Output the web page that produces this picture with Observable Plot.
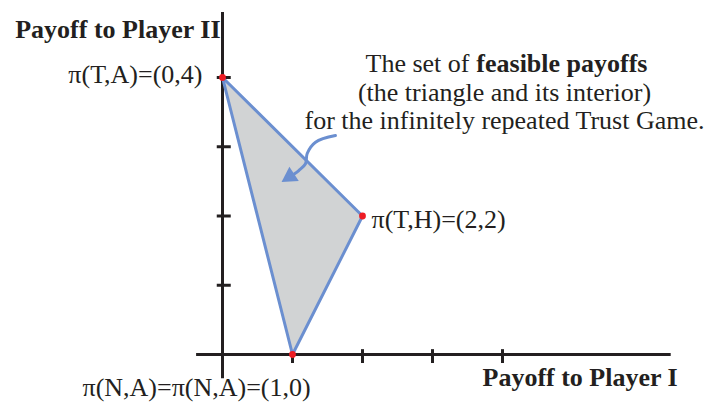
<!DOCTYPE html>
<html><head><meta charset="utf-8">
<script src="https://cdn.jsdelivr.net/npm/d3@7"></script>
<script src="https://cdn.jsdelivr.net/npm/@observablehq/plot@0.6"></script>
<style>body{margin:0;background:#fff}</style>
</head><body><div id="chart"></div>
<script>
// ---- data ----
const vertexX = [0, 2, 1];
const vertexY = [4, 2, 0];
const vertexLabels = ["π(T,A)=(0,4)", "π(T,H)=(2,2)", "π(N,A)=π(N,A)=(1,0)"];
const xTicks = [1, 2, 3, 4];
const yTicks = [1, 2, 3, 4];
const arrowX = [1.614, 1.329, 1.21, 1.186, 1.09, 1.029];
const arrowY = [3.162, 3.066, 2.903, 2.754, 2.657, 2.609];
const arrowHeadX = [0.963];
const arrowHeadY = [2.569];
const xAxisLabel = "Payoff to Player I";
const yAxisLabel = "Payoff to Player II";
const noteLine1a = "The set of";
const noteLine1b = "feasible payoffs";
const noteLine2 = "(the triangle and its interior)";
const noteLine3 = "for the infinitely repeated Trust Game.";

const vertices = vertexX.map((x, i) => ({x, y: vertexY[i], label: vertexLabels[i]}));
const polygon = [0, 1, 2, 0].map(i => vertices[i]);
const arrow = arrowX.map((x, i) => ({x, y: arrowY[i]}));
const head = arrowHeadX.map((x, i) => ({x, y: arrowHeadY[i]}));

const ink = "#231f20";
const blue = "#6b8fd0";
const font = "'Liberation Serif', 'Times New Roman', serif";
const txt = {fontFamily: font, fontSize: 26, fill: ink, lineAnchor: "bottom"};

const chart = Plot.plot({
  width: 709,
  height: 406,
  marginLeft: 222,
  marginRight: 67,
  marginTop: 77,
  marginBottom: 52,
  x: {domain: [0, 6], axis: null},
  y: {domain: [0, 4], axis: null},
  style: {background: "#fff", fontFamily: font},
  marks: [
    // axes
    Plot.ruleY([0], {x1: -0.37, x2: 6.41, stroke: ink, strokeWidth: 3}),
    Plot.ruleX([0], {y1: -0.35, y2: 4.94, stroke: ink, strokeWidth: 3}),
    Plot.ruleX(xTicks, {x: d => d, y1: -0.13, y2: 0.07, stroke: ink, strokeWidth: 3}),
    Plot.ruleY(yTicks, {y: d => d, x1: -0.075, x2: 0.125, stroke: ink, strokeWidth: 3}),
    // feasible set
    Plot.line(polygon, {x: "x", y: "y", fill: "#d1d3d4", stroke: blue, strokeWidth: 3, strokeLinejoin: "round"}),
    Plot.dot(vertices, {x: "x", y: "y", r: 3.4, fill: "#ed1c24", stroke: null}),
    // arrow
    Plot.line(arrow, {x: "x", y: "y", curve: "catmull-rom", stroke: blue, strokeWidth: 3, strokeLinecap: "round"}),
    Plot.dot(head, {x: "x", y: "y", symbol: "triangle", r: 6.4, rotate: -123, fill: blue, stroke: null}),
    // vertex labels
    Plot.text([vertices[0]], {x: "x", y: "y", text: "label", textAnchor: "end", dx: -20, dy: 5, ...txt}),
    Plot.text([vertices[1]], {x: "x", y: "y", text: "label", textAnchor: "start", dx: 9, dy: 12, ...txt}),
    Plot.text([vertices[2]], {x: "x", y: "y", text: "label", textAnchor: "start", dx: -210, dy: 41, ...txt}),
    // axis labels
    Plot.text([yAxisLabel], {frameAnchor: "top-left", text: d => d, textAnchor: "end", dx: -2, dy: -40, fontWeight: "bold", ...txt}),
    Plot.text([xAxisLabel], {frameAnchor: "bottom-left", text: d => d, textAnchor: "start", dx: 260, dy: 31, fontWeight: "bold", ...txt}),
    // annotation
    Plot.text([noteLine1a], {frameAnchor: "top-left", text: d => d, textAnchor: "end", dx: 247, dy: -6, ...txt}),
    Plot.text([noteLine1b], {frameAnchor: "top-left", text: d => d, textAnchor: "end", dx: 425, dy: -6, fontWeight: "bold", ...txt}),
    Plot.text([noteLine2], {frameAnchor: "top-left", text: d => d, textAnchor: "middle", dx: 282, dy: 23, ...txt}),
    Plot.text([noteLine3], {frameAnchor: "top-left", text: d => d, textAnchor: "middle", dx: 282, dy: 51, ...txt})
  ]
});
document.getElementById("chart").appendChild(chart);
</script>
</body></html>
